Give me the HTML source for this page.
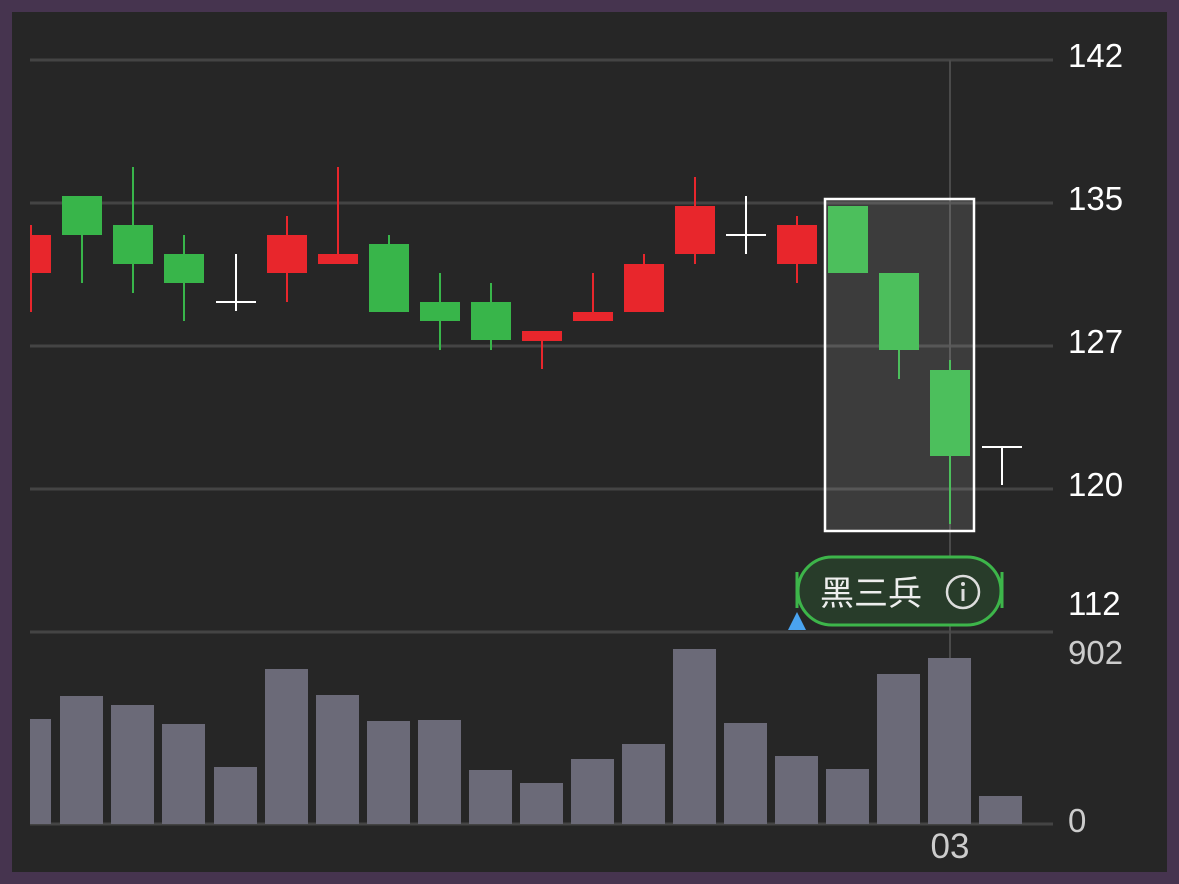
<!DOCTYPE html>
<html><head><meta charset="utf-8"><style>
html,body{margin:0;padding:0;background:#46344f;}
svg{display:block}
text{font-family:"Liberation Sans","Noto Sans CJK SC",sans-serif;}
</style></head><body>
<svg width="1179" height="884" viewBox="0 0 1179 884">
<rect x="0" y="0" width="1179" height="884" fill="#46344f"/>
<rect x="12" y="12" width="1155" height="860" fill="#262626"/>
<g stroke="#444" stroke-width="3">
<line x1="30" y1="60" x2="1053" y2="60"/><line x1="30" y1="203" x2="1053" y2="203"/>
<line x1="30" y1="346" x2="1053" y2="346"/><line x1="30" y1="489" x2="1053" y2="489"/>
<line x1="30" y1="632" x2="1053" y2="632"/><line x1="30" y1="824" x2="1053" y2="824"/>
</g>
<line x1="950" y1="60" x2="950" y2="824" stroke="#4a4a4a" stroke-width="2"/>
<g fill="#6b6a78">
<rect x="30" y="719" width="21" height="105"/>
<rect x="60" y="696" width="43" height="128"/>
<rect x="111" y="705" width="43" height="119"/>
<rect x="162" y="724" width="43" height="100"/>
<rect x="214" y="767" width="43" height="57"/>
<rect x="265" y="669" width="43" height="155"/>
<rect x="316" y="695" width="43" height="129"/>
<rect x="367" y="721" width="43" height="103"/>
<rect x="418" y="720" width="43" height="104"/>
<rect x="469" y="770" width="43" height="54"/>
<rect x="520" y="783" width="43" height="41"/>
<rect x="571" y="759" width="43" height="65"/>
<rect x="622" y="744" width="43" height="80"/>
<rect x="673" y="649" width="43" height="175"/>
<rect x="724" y="723" width="43" height="101"/>
<rect x="775" y="756" width="43" height="68"/>
<rect x="826" y="769" width="43" height="55"/>
<rect x="877" y="674" width="43" height="150"/>
<rect x="928" y="658" width="43" height="166"/>
<rect x="979" y="796" width="43" height="28"/>
</g>
<rect x="824" y="198" width="151" height="334" fill="rgba(255,255,255,0.1)"/>
<g stroke-width="2">
<g stroke="#e8262c" fill="#e8262c">
<line x1="31" y1="225" x2="31" y2="312"/><rect x="30" y="235" width="21" height="38" stroke="none"/>
<line x1="287" y1="216" x2="287" y2="302"/><rect x="267" y="235" width="40" height="38" stroke="none"/>
<line x1="338" y1="167" x2="338" y2="264"/><rect x="318" y="254" width="40" height="10" stroke="none"/>
<line x1="542" y1="331" x2="542" y2="369"/><rect x="522" y="331" width="40" height="10" stroke="none"/>
<line x1="593" y1="273" x2="593" y2="321"/><rect x="573" y="312" width="40" height="9" stroke="none"/>
<line x1="644" y1="254" x2="644" y2="312"/><rect x="624" y="264" width="40" height="48" stroke="none"/>
<line x1="695" y1="177" x2="695" y2="264"/><rect x="675" y="206" width="40" height="48" stroke="none"/>
<line x1="797" y1="216" x2="797" y2="283"/><rect x="777" y="225" width="40" height="39" stroke="none"/>
</g>
<g stroke="#38b54a" fill="#38b54a">
<line x1="82" y1="235" x2="82" y2="283"/><rect x="62" y="196" width="40" height="39" stroke="none"/>
<line x1="133" y1="167" x2="133" y2="293"/><rect x="113" y="225" width="40" height="39" stroke="none"/>
<line x1="184" y1="235" x2="184" y2="321"/><rect x="164" y="254" width="40" height="29" stroke="none"/>
<line x1="389" y1="235" x2="389" y2="312"/><rect x="369" y="244" width="40" height="68" stroke="none"/>
<line x1="440" y1="273" x2="440" y2="350"/><rect x="420" y="302" width="40" height="19" stroke="none"/>
<line x1="491" y1="283" x2="491" y2="350"/><rect x="471" y="302" width="40" height="38" stroke="none"/>
</g>
<g stroke="#4cbf5c" fill="#4cbf5c">
<rect x="828" y="206" width="40" height="67" stroke="none"/>
<line x1="899" y1="350" x2="899" y2="379"/><rect x="879" y="273" width="40" height="77" stroke="none"/>
<line x1="950" y1="360" x2="950" y2="524"/><rect x="930" y="370" width="40" height="86" stroke="none"/>
</g>
<g stroke="#fff">
<line x1="216" y1="302" x2="256" y2="302"/><line x1="236" y1="254" x2="236" y2="311"/>
<line x1="726" y1="235" x2="766" y2="235"/><line x1="746" y1="196" x2="746" y2="254"/>
<line x1="982" y1="447" x2="1022" y2="447"/><line x1="1002" y1="447" x2="1002" y2="485"/>
</g>
</g>
<rect x="825" y="199" width="149" height="332" fill="none" stroke="#fff" stroke-width="2.5"/>
<rect x="798" y="557" width="203" height="68" rx="34" fill="#283c2a" stroke="#3db54a" stroke-width="3"/>
<line x1="797" y1="572" x2="797" y2="608" stroke="#3db54a" stroke-width="3"/>
<line x1="1002" y1="572" x2="1002" y2="608" stroke="#3db54a" stroke-width="3"/>
<text x="820" y="605" font-size="34" fill="#eee">黑三兵</text>
<circle cx="963" cy="592" r="16" fill="none" stroke="#ddd" stroke-width="2.5"/>
<circle cx="963" cy="584" r="2" fill="#ddd"/><line x1="963" y1="589" x2="963" y2="601" stroke="#ddd" stroke-width="3"/>
<polygon points="797,612 788,630 806,630" fill="#4aa3f0"/>
<g font-size="33" fill="#fff">
<text x="1068" y="67">142</text><text x="1068" y="210">135</text>
<text x="1068" y="353">127</text><text x="1068" y="496">120</text>
<text x="1068" y="615">112</text>
</g>
<g font-size="33" fill="#ccc">
<text x="1068" y="664">902</text><text x="1068" y="832">0</text>
<text x="950" y="858" text-anchor="middle" font-size="35">03</text>
</g>
</svg>
</body></html>
